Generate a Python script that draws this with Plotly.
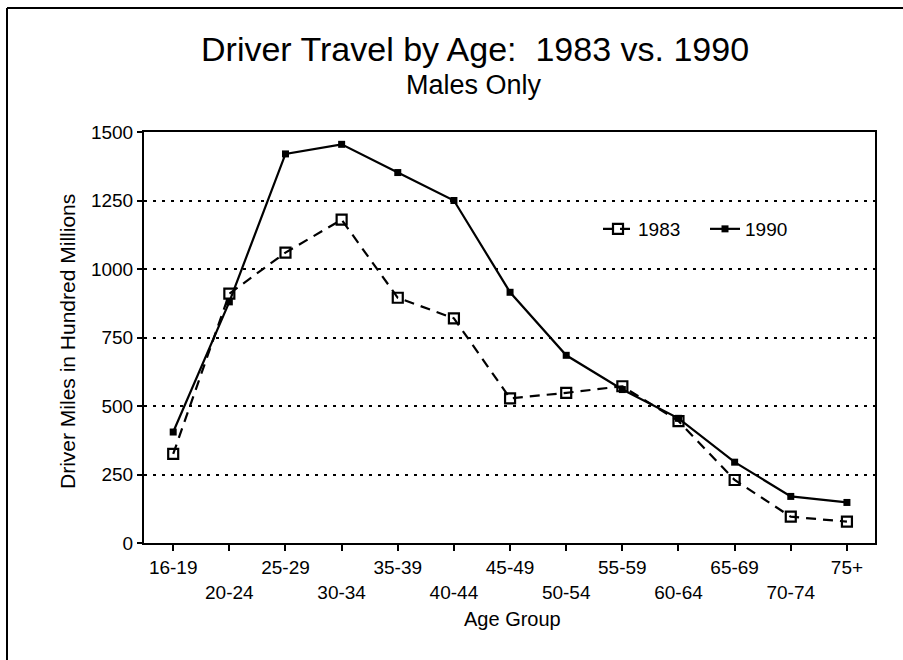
import plotly.graph_objects as go

# Age groups and driver miles (hundred millions), males only
age_groups = ["16-19", "20-24", "25-29", "30-34", "35-39", "40-44", "45-49",
              "50-54", "55-59", "60-64", "65-69", "70-74", "75+"]
miles_1983 = [325, 910, 1060, 1180, 895, 820, 528, 548, 572, 445, 230, 96, 78]
miles_1990 = [405, 880, 1420, 1455, 1352, 1250, 915, 685, 560, 455, 295, 170, 148]
y_ticks = [0, 250, 500, 750, 1000, 1250, 1500]

W, H = 903, 660
L, R, T, B = 144, 28, 132, 117
PW, PH = W - L - R, H - T - B


def px(x):
    return (x - L) / PW


def py(y):
    return (H - B - y) / PH


FONT = "Liberation Sans, Arial, sans-serif"
xs = list(range(len(age_groups)))
# stagger the category labels over two rows
tick_text = [g if i % 2 == 0 else "<br>" + g for i, g in enumerate(age_groups)]

fig = go.Figure()
fig.add_trace(go.Scatter(
    x=xs, y=miles_1983, name="1983", mode="lines+markers",
    line=dict(color="black", width=2.2, dash="10px,7px"),
    marker=dict(symbol="square-open", size=10, color="black",
                line=dict(width=2.2, color="black")),
))
fig.add_trace(go.Scatter(
    x=xs, y=miles_1990, name="1990", mode="lines+markers",
    line=dict(color="black", width=2.2),
    marker=dict(symbol="square", size=7, color="black"),
))

fig.update_layout(
    width=W, height=H,
    margin=dict(l=L, r=R, t=T, b=B),
    paper_bgcolor="white", plot_bgcolor="white",
    font=dict(family=FONT, color="black", size=19),
    showlegend=True,
    legend=dict(orientation="h", x=px(598), y=py(229), xanchor="left",
                yanchor="middle", bgcolor="rgba(0,0,0,0)",
                font=dict(size=19, family=FONT), itemwidth=30,
                entrywidth=62, traceorder="normal"),
    xaxis=dict(range=[-0.52, 12.5], tickmode="array", tickvals=xs,
               ticktext=tick_text, ticks="outside", ticklen=6, tickwidth=2,
               tickcolor="black", showline=True, linecolor="black",
               linewidth=2, mirror=True, showgrid=False, zeroline=False,
               tickfont=dict(size=19, family=FONT)),
    yaxis=dict(range=[0, 1500], tickmode="array", tickvals=y_ticks,
               ticks="outside", ticklen=5, tickwidth=2, tickcolor="black",
               showline=True, linecolor="black", linewidth=2, mirror=True,
               showgrid=True, gridcolor="black", gridwidth=2,
               griddash="3px,6px", zeroline=False,
               tickfont=dict(size=19, family=FONT)),
)

annotations = [
    dict(text="Driver Travel by Age:  1983 vs. 1990", x=px(474.5), y=py(49),
         font=dict(size=34, family=FONT)),
    dict(text="Males Only", x=px(474), y=py(85), font=dict(size=27, family=FONT)),
    dict(text="Driver Miles in Hundred Millions", x=px(67), y=py(342),
         textangle=-90, font=dict(size=21, family=FONT)),
    dict(text="Age Group", x=px(512), y=py(619), font=dict(size=20, family=FONT)),
]
for a in annotations:
    fig.add_annotation(xref="paper", yref="paper", showarrow=False,
                       xanchor="center", yanchor="middle", **a)

# outer frame around the whole chart
fig.add_shape(type="line", xref="paper", yref="paper",
              x0=px(7), x1=px(W + 5), y0=py(8), y1=py(8),
              line=dict(color="black", width=2))
fig.add_shape(type="line", xref="paper", yref="paper",
              x0=px(7), x1=px(7), y0=py(8), y1=py(H + 5),
              line=dict(color="black", width=2))

fig.write_html("out.html")
